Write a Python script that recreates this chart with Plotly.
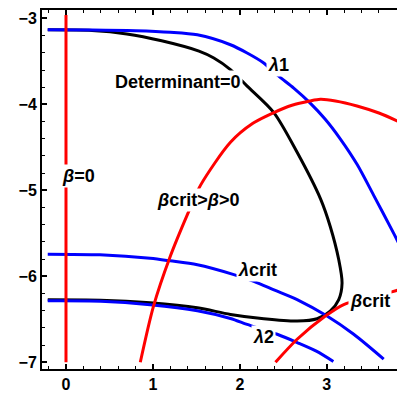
import plotly.graph_objects as go

# --- data ---
beta0_x = [0.0, 0.0]
beta0_y = [-2.96, -7.0]

lam1_x = [-0.21, 0.3, 0.8, 1.2, 1.511, 1.892, 2.084, 2.275, 2.448, 2.62, 2.804, 2.98, 3.157, 3.35, 3.540, 3.77, 3.85]
lam1_y = [-3.133, -3.134, -3.142, -3.16, -3.191, -3.306, -3.402, -3.518, -3.672, -3.81, -3.979, -4.17, -4.403, -4.70, -5.058, -5.50, -5.66]

det_x = [-0.21, 0.3, 0.7, 1.1, 1.53, 1.701, 1.892, 2.084, 2.391, 2.659, 2.927, 3.04, 3.138, 3.176, 3.138, 3.04, 2.889,
         2.659, 2.276, 1.892, 1.511, 0.968, 0.394, -0.21]
det_y = [-3.133, -3.14, -3.18, -3.26, -3.38, -3.46, -3.595, -3.787, -4.095, -4.557, -5.096, -5.42, -5.808, -6.077, -6.27,
         -6.404, -6.493, -6.52, -6.493, -6.443, -6.366, -6.308, -6.277, -6.272]

lamc_x = [-0.21, 0.39, 0.968, 1.199, 1.511, 1.931, 2.161, 2.40, 2.659, 3.003, 3.31, 3.655]
lamc_y = [-5.742, -5.75, -5.79, -5.82, -5.866, -5.98, -6.058, -6.16, -6.27, -6.462, -6.674, -6.963]

lam2_x = [-0.21, 0.4, 0.968, 1.511, 1.892, 2.084, 2.43, 2.66, 2.88, 3.076]
lam2_y = [-6.285, -6.29, -6.33, -6.40, -6.49, -6.559, -6.674, -6.77, -6.87, -6.99]

bc_pos_x = [0.855, 1.007, 1.199, 1.41, 1.547, 1.892, 2.15, 2.391, 2.60, 2.804, 2.927, 3.10, 3.348, 3.60, 3.85]
bc_pos_y = [-7.0, -6.347, -5.769, -5.25, -4.942, -4.441, -4.22, -4.095, -4.01, -3.961, -3.941, -3.96, -4.018, -4.10, -4.21]

bcrit_x = [2.41, 2.659, 2.984, 3.195, 3.45, 3.747, 3.85]
bcrit_y = [-7.0, -6.732, -6.462, -6.328, -6.25, -6.181, -6.15]

labels = ["<b><i>β</i>=0</b>", "<b>Determinant=0</b>", "<b><i>λ</i>1</b>", "<b><i>β</i>crit&gt;<i>β</i>&gt;0</b>",
          "<b><i>λ</i>crit</b>", "<b><i>λ</i>2</b>", "<b><i>β</i>crit</b>"]
label_x = [0.14, 1.285, 2.45, 1.524, 2.205, 2.27, 3.50]
label_y = [-4.83, -3.745, -3.537, -5.115, -5.924, -6.70, -6.289]

RED = "#FF0000"
BLUE = "#0000FF"
LW = 3

fig = go.Figure()
fig.add_trace(go.Scatter(x=det_x, y=det_y, mode="lines", line=dict(color="black", width=LW, shape="spline", smoothing=0.8)))
for xs, ys in [(lam1_x, lam1_y), (lamc_x, lamc_y), (lam2_x, lam2_y)]:
    fig.add_trace(go.Scatter(x=xs, y=ys, mode="lines", line=dict(color=BLUE, width=LW, shape="spline", smoothing=0.8)))
for xs, ys in [(beta0_x, beta0_y), (bc_pos_x, bc_pos_y), (bcrit_x, bcrit_y)]:
    fig.add_trace(go.Scatter(x=xs, y=ys, mode="lines", line=dict(color=RED, width=LW, shape="spline", smoothing=0.8)))

for t, x, y in zip(labels, label_x, label_y):
    fig.add_annotation(x=x, y=y, text=t, showarrow=False, bgcolor="white", borderpad=1,
                       font=dict(family="Liberation Sans, Arial", size=18, color="black"))

axis_common = dict(showgrid=False, zeroline=False, showline=True, linecolor="black", linewidth=2,
                   ticks="inside", ticklen=5, tickwidth=1.5, tickcolor="black",
                   tickfont=dict(family="Liberation Sans, Arial", size=16, color="black", weight="bold"))

fig.update_xaxes(range=[-0.276, 3.808], tickvals=[0, 1, 2, 3], mirror="ticks",
                 minor=dict(ticks="inside", ticklen=3, dtick=0.2, tickcolor="black", tickwidth=1), **axis_common)
fig.update_yaxes(range=[-7.078, -2.902], tickvals=[-7, -6, -5, -4, -3],
                 minor=dict(ticks="inside", ticklen=3, dtick=0.2, tickcolor="black", tickwidth=1), **axis_common)

fig.update_layout(width=397, height=393, margin=dict(l=42, r=0, t=10, b=21),
                  plot_bgcolor="white", paper_bgcolor="white", showlegend=False)

fig.write_html("out.html")
